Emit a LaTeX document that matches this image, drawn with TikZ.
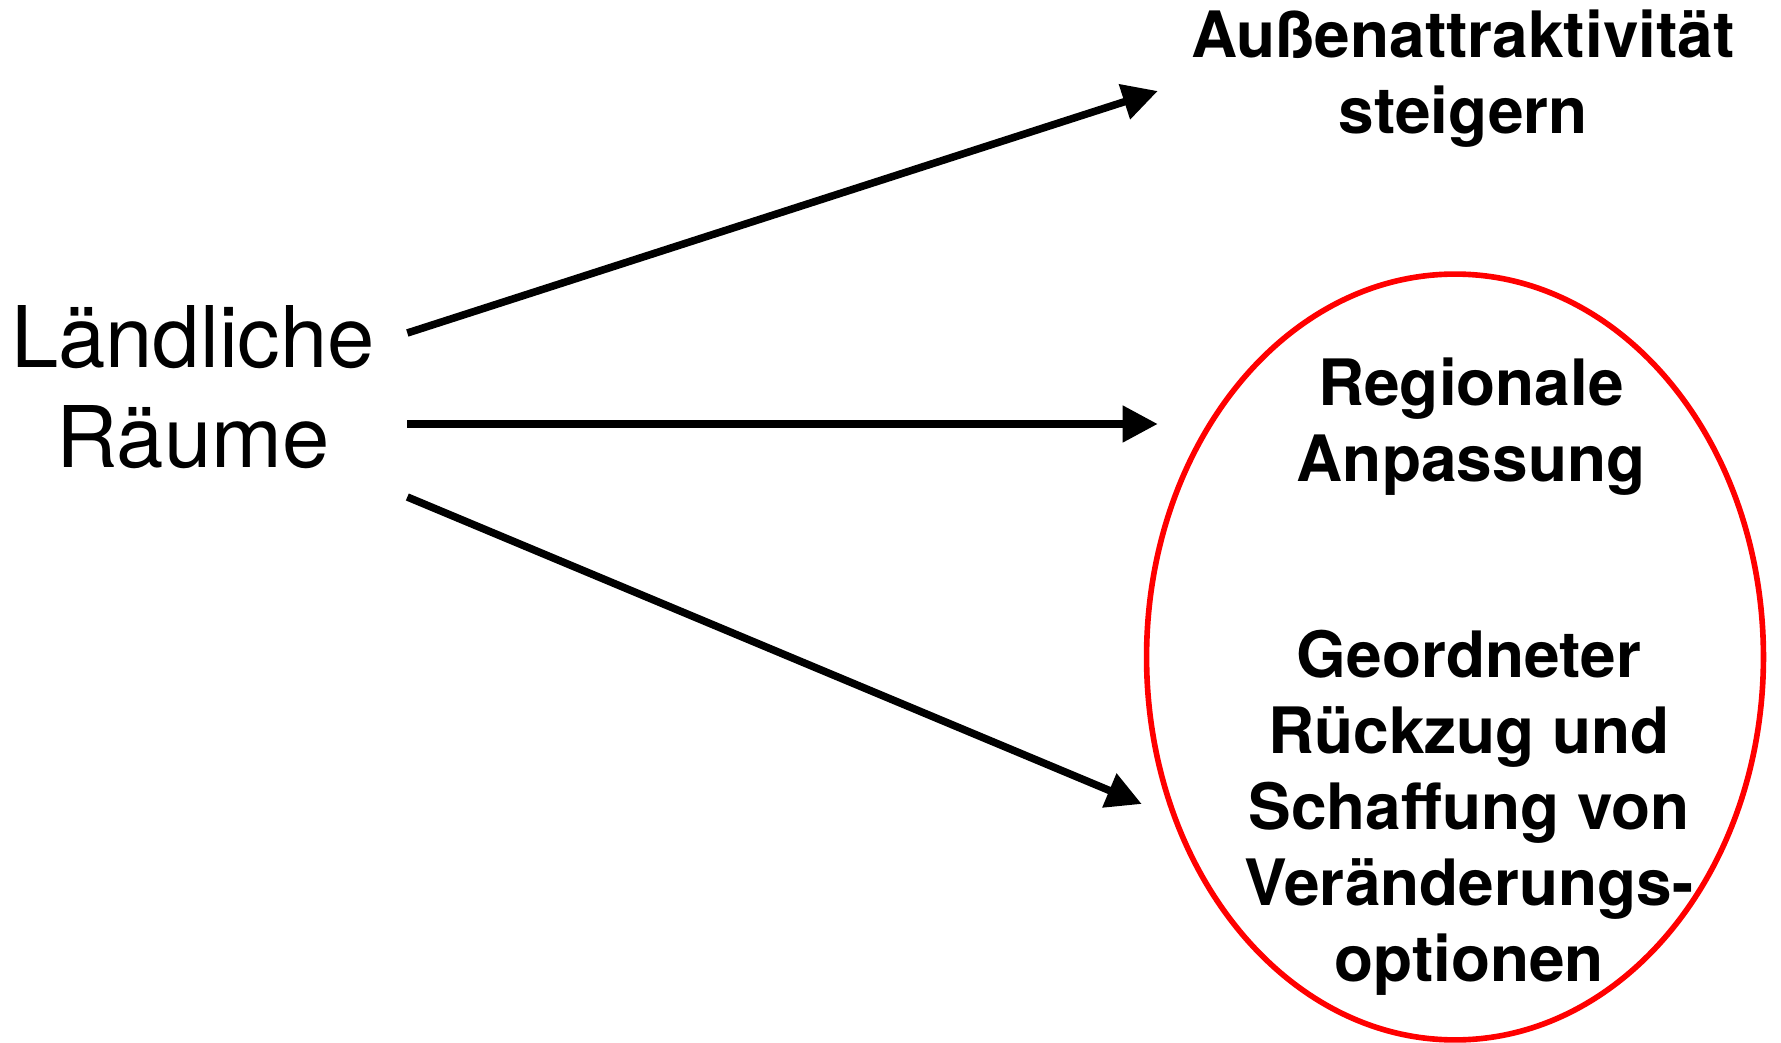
\documentclass[tikz,border=0pt]{standalone}
\usepackage{fontspec}
\setmainfont{TeX Gyre Heros}
\usetikzlibrary{arrows.meta, positioning, shapes.geometric}

\tikzset{
  bigtxt/.style={font=\fontsize{48.4}{57}\selectfont, align=center, inner sep=0pt},
  goaltxt/.style={font=\fontsize{36.4}{43.2}\selectfont\bfseries, align=center, inner sep=0pt},
  arr/.style={line width=4.3pt, -{Triangle[length=20pt,width=20pt]}},
}

\begin{document}
\begin{tikzpicture}[x=0.02cm,y=-0.02cm]
  \useasboundingbox (0,0) rectangle (1781,1043);

  \node[bigtxt] (rural) at (193,387) {Ländliche\\Räume};

  \node[goaltxt] (attr) at (1463,79) {Außenattraktivität\\steigern};
  \node[ellipse, draw=red, line width=3.2pt, minimum width=12.34cm, minimum height=15.32cm] (zone) at (1455,657) {};
  \node[goaltxt] (adapt) at (1471,427) {Regionale\\Anpassung};
  \node[goaltxt] (retreat) at (1469,813) {Geordneter\\Rückzug und\\Schaffung von\\Veränderungs-\\optionen};

  \draw[arr] ([shift={(32,-54)}]rural.east) -- ([shift={(-33,12)}]attr.west);
  \draw[arr] ([shift={(32,37)}]rural.east) -- ([shift={(14,-233)}]zone.west);
  \draw[arr] ([shift={(32,110)}]rural.east) -- ([shift={(-2,147)}]zone.west);
\end{tikzpicture}
\end{document}
